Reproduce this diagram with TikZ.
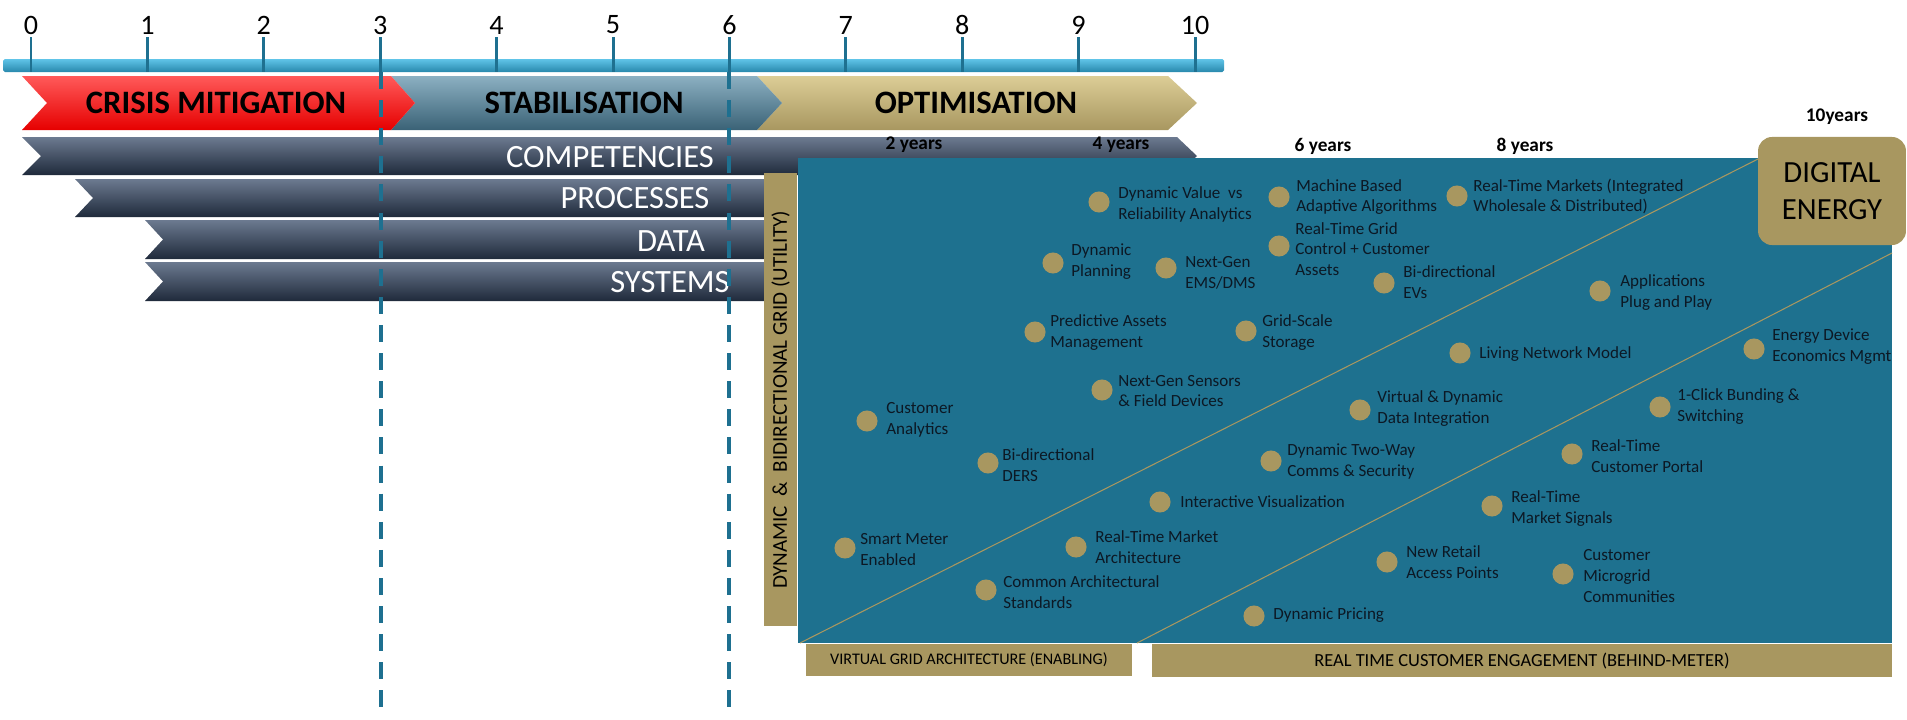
\documentclass[tikz,border=0pt]{standalone}
\usepackage{fontspec}
\setmainfont{Carlito}
\definecolor{barblue}{RGB}{96,196,232}
\definecolor{bardark}{RGB}{40,136,172}
\definecolor{tickblue}{RGB}{30,112,144}
\definecolor{panelteal}{RGB}{30,113,143}
\definecolor{gold}{RGB}{168,151,96}
\definecolor{goldlight}{RGB}{220,205,150}
\definecolor{navy}{RGB}{31,42,59}
\definecolor{slate}{RGB}{108,122,144}
\definecolor{itemtext}{RGB}{12,24,36}

\begin{document}
\begin{tikzpicture}[x=0.02cm, y=-0.02cm,
    num/.style={font=\fontsize{16}{18}\selectfont},
    phase/.style={font=\bfseries\fontsize{18.6}{21}\selectfont},
    barlabel/.style={text=white, font=\fontsize{18.5}{21}\selectfont},
    yrs/.style={font=\bfseries\fontsize{11}{13}\selectfont},
    tick/.style={tickblue, line width=1.7pt},
    vline/.style={tickblue, line width=2.3pt, dash pattern=on 9.7pt off 6.3pt},
    darkbar/.style={top color=slate, middle color=navy!85!slate, bottom color=navy},
    item/.style={anchor=west, align=left, inner sep=0pt, text=itemtext, font=\fontsize{9.7}{11.8}\selectfont},
    dot/.style={fill=gold, circle, inner sep=0pt, minimum size=12pt},
    goldbar/.style={fill=gold}]
    \useasboundingbox (0,0) rectangle (1907,720);

    % timeline
    \shade[top color=barblue, bottom color=bardark, rounded corners=1pt] (3,59) rectangle (1224,72);
    \draw[tick] (31,37) -- (31,72);
    \draw[tick] (147.4,37) -- (147.4,72);
    \draw[tick] (263.8,37) -- (263.8,72);
    \draw[tick] (380.2,37) -- (380.2,72);
    \draw[tick] (496.6,37) -- (496.6,72);
    \draw[tick] (613,37) -- (613,72);
    \draw[tick] (729.4,37) -- (729.4,72);
    \draw[tick] (845.8,37) -- (845.8,72);
    \draw[tick] (962.2,37) -- (962.2,72);
    \draw[tick] (1078.6,37) -- (1078.6,72);
    \draw[tick] (1195,37) -- (1195,72);
    \node [num] (n0) at (31,25) {0};
    \node [num] (n1) at (147.4,25) {1};
    \node [num] (n2) at (263.8,25) {2};
    \node [num] (n3) at (380.2,25) {3};
    \node [num] (n4) at (496.6,25) {4};
    \node [num] (n5) at (613,25) {5};
    \node [num] (n6) at (729.4,25) {6};
    \node [num] (n7) at (845.8,25) {7};
    \node [num] (n8) at (962.2,25) {8};
    \node [num] (n9) at (1078.6,25) {9};
    \node [num] (n10) at (1195,25) {10};

    % phases
    \shade[top color=goldlight, middle color=gold, bottom color=gold] (757,76) -- (1168,76) -- (1197,103) -- (1168,130) -- (757,130) -- (782,103) -- cycle;
    \shade[top color={rgb,255:red,140;green,176;blue,194}, middle color={rgb,255:red,70;green,110;blue,128}, bottom color={rgb,255:red,58;green,98;blue,118}] (391,76) -- (757,76) -- (782,103) -- (757,130) -- (391,130) -- (415,103) -- cycle;
    \shade[top color={rgb,255:red,255;green,90;blue,90}, middle color=red, bottom color={rgb,255:red,230;green,0;blue,0}] (22,76) -- (391,76) -- (415,103) -- (391,130) -- (22,130) -- (47,103) -- cycle;
    \node [phase] (crisis) at (216,103) {CRISIS MITIGATION};
    \node [phase] (stab) at (584,103) {STABILISATION};
    \node [phase] (optim) at (976,103) {OPTIMISATION};

    % capability bars
    \shade[darkbar] (22,137) -- (1177,137) -- (1197,156) -- (1177,175) -- (22,175) -- (41,156) -- cycle;
    \shade[darkbar] (75,179) -- (790,179) -- (790,217) -- (75,217) -- (93,198) -- cycle;
    \shade[darkbar] (145,220) -- (790,220) -- (790,259) -- (145,259) -- (163,239.5) -- cycle;
    \shade[darkbar] (145,262) -- (790,262) -- (790,301) -- (145,301) -- (163,281.5) -- cycle;
    \node [barlabel] (comp) at (610,157) {COMPETENCIES};
    \node [barlabel] (proc) at (635,198) {PROCESSES};
    \node [barlabel] (data) at (671,241) {DATA};
    \node [barlabel] (sys) at (670,282) {SYSTEMS};
    \node [yrs] (y2) at (914,145) {2 years};
    \node [yrs] (y4) at (1121,145) {4 years};
    \node [yrs] (y6) at (1323,146) {6 years};
    \node [yrs] (y8) at (1525,146) {8 years};
    \node [yrs] (y10) at (1837,117) {10years};

    % panel
    \fill[goldbar] (764,173) rectangle (797,626);
    \node [rotate=90, font=\fontsize{12}{14}\selectfont] (util) at (780.5,400) {DYNAMIC ~\&~ BIDIRECTIONAL GRID (UTILITY)};
    \fill[panelteal] (798,158) rectangle (1892,643);
    \fill[goldbar] (806,644) rectangle (1132,676);
    \fill[goldbar] (1152,644) rectangle (1892,677);
    \node [font=\fontsize{9.2}{11}\selectfont] (vga) at (969,660) {VIRTUAL GRID ARCHITECTURE (ENABLING)};
    \node [font=\fontsize{10.5}{12}\selectfont] (rtce) at (1522,661) {REAL TIME CUSTOMER ENGAGEMENT (BEHIND-METER)};

    \coordinate (a1) at (800,643);
    \coordinate (b1) at (1760,158);
    \coordinate (a2) at (1137,643);
    \coordinate (b2) at (1892,253);
    \draw[gold, line width=0.6pt] (a1) -- (b1);
    \draw[gold, line width=0.6pt] (a2) -- (b2);

    \node [fill=gold, rounded corners=8pt, minimum width=84.2pt, minimum height=61.5pt, inner sep=0pt,
           align=center, font=\fontsize{17.5}{21}\selectfont] (de) at (1832,191) {DIGITAL\\ENERGY};

    % items
    \node [dot] (d1) at (1099,202) {};
    \node [item] (t1) at (1118,204.5) {Dynamic Value~ vs\\Reliability Analytics};
    \node [dot] (d2) at (1279,197) {};
    \node [item] (t2) at (1296,197) {Machine Based\\Adaptive Algorithms};
    \node [dot] (d3) at (1279,246) {};
    \node [item] (t3) at (1295,249) {Real-Time Grid\\Control + Customer\\Assets};
    \node [dot] (d4) at (1457,196) {};
    \node [item] (t4) at (1473,196.5) {Real-Time Markets (Integrated\\Wholesale \& Distributed)};
    \node [dot] (d5) at (1053,263) {};
    \node [item] (t5) at (1071,261.5) {Dynamic\\Planning};
    \node [dot] (d6) at (1166,268) {};
    \node [item] (t6) at (1185,272.5) {Next-Gen\\EMS/DMS};
    \node [dot] (d7) at (1384,283) {};
    \node [item] (t7) at (1403,282) {Bi-directional\\EVs};
    \node [dot] (d8) at (1600,291) {};
    \node [item] (t8) at (1620,292.5) {Applications\\Plug and Play};
    \node [dot] (d9) at (1035,332) {};
    \node [item] (t9) at (1050,332.5) {Predictive Assets\\Management};
    \node [dot] (d10) at (1246,331) {};
    \node [item] (t10) at (1262,332.5) {Grid-Scale\\Storage};
    \node [dot] (d11) at (1460,353) {};
    \node [item] (t11) at (1479,354) {Living Network Model};
    \node [dot] (d12) at (1754,349) {};
    \node [item] (t12) at (1772,346.5) {Energy Device\\Economics Mgmt};
    \node [dot] (d13) at (1102,390) {};
    \node [item] (t13) at (1118,391) {Next-Gen Sensors\\\& Field Devices};
    \node [dot] (d14) at (867,421) {};
    \node [item] (t14) at (886,419.5) {Customer\\Analytics};
    \node [dot] (d15) at (1360,410) {};
    \node [item] (t15) at (1377,408.5) {Virtual \& Dynamic\\Data Integration};
    \node [dot] (d16) at (1660,407) {};
    \node [item] (t16) at (1677,406.5) {1-Click Bunding \&\\Switching};
    \node [dot] (d17) at (988,463) {};
    \node [item] (t17) at (1002,465.5) {Bi-directional\\DERS};
    \node [dot] (d18) at (1271,461) {};
    \node [item] (t18) at (1287,461.5) {Dynamic Two-Way\\Comms \& Security};
    \node [dot] (d19) at (1572,454) {};
    \node [item] (t19) at (1591,456.5) {Real-Time\\Customer Portal};
    \node [dot] (d20) at (1160,502) {};
    \node [item] (t20) at (1180,502) {Interactive Visualization};
    \node [dot] (d21) at (1492,506) {};
    \node [item] (t21) at (1511,508.5) {Real-Time\\Market Signals};
    \node [dot] (d22) at (845,548) {};
    \node [item] (t22) at (860,549.5) {Smart Meter\\Enabled};
    \node [dot] (d23) at (1076,547) {};
    \node [item] (t23) at (1095,547.5) {Real-Time Market\\Architecture};
    \node [dot] (d24) at (1387,562) {};
    \node [item] (t24) at (1406,562.5) {New Retail\\Access Points};
    \node [dot] (d25) at (1563,574) {};
    \node [item] (t25) at (1583,576) {Customer\\Microgrid\\Communities};
    \node [dot] (d26) at (986,590) {};
    \node [item] (t26) at (1003,592.5) {Common Architectural\\Standards};
    \node [dot] (d27) at (1254,616) {};
    \node [item] (t27) at (1273,615) {Dynamic Pricing};

    % milestones
    \coordinate (v3) at (381,72);
    \coordinate (v3e) at (381,717);
    \coordinate (v6) at (729.4,72);
    \coordinate (v6e) at (729.4,717);
    \draw[vline] (v3) -- (v3e);
    \draw[vline] (v6) -- (v6e);
\end{tikzpicture}
\end{document}
